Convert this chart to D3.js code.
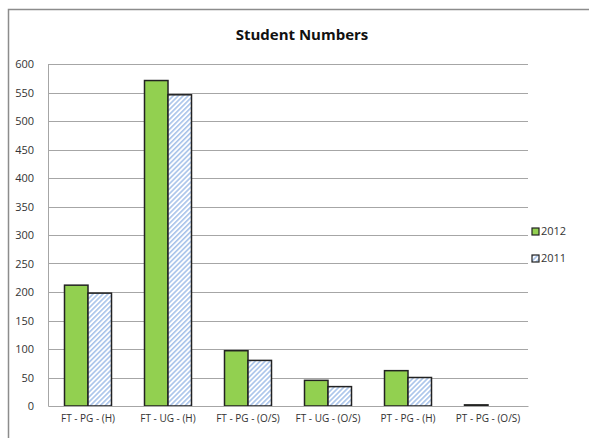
<!DOCTYPE html>
<html>
<head>
<meta charset="utf-8">
<script src="https://cdn.jsdelivr.net/npm/d3@7"></script>
<style>
  body { margin: 0; background: #fff; }
  text { font-family: "Open Sans", "DejaVu Sans", sans-serif; }
</style>
</head>
<body>
<div id="chart"></div>
<script>
var categories = ["FT - PG - (H)", "FT - UG - (H)", "FT - PG - (O/S)", "FT - UG - (O/S)", "PT - PG - (H)", "PT - PG - (O/S)"];
var series = ["2012", "2011"];
var values2012 = [212, 571, 97, 45, 62, 2];
var values2011 = [198, 546, 80, 34, 50, 0];
var yTicks = [0, 50, 100, 150, 200, 250, 300, 350, 400, 450, 500, 550, 600];

var width = 589, height = 438;
var margin = { top: 64, right: 61, bottom: 32, left: 48 };
var innerW = width - margin.left - margin.right,
    innerH = height - margin.top - margin.bottom;

var svg = d3.select("#chart").append("svg")
    .attr("width", width)
    .attr("height", height);

// hatch for 2011
var defs = svg.append("defs");
var pat = defs.append("pattern")
    .attr("id", "hatch")
    .attr("patternUnits", "userSpaceOnUse")
    .attr("width", 3.5).attr("height", 3.5)
    .attr("patternTransform", "rotate(45)");
pat.append("rect").attr("width", 3.5).attr("height", 3.5).attr("fill", "#fff");
pat.append("rect").attr("width", 1.6).attr("height", 3.5).attr("fill", "#a8c3ea");

// outer frame
svg.append("path")
    .attr("d", "M8.5," + height + " V9.5 H" + width)
    .attr("fill", "none")
    .attr("stroke", "#8c8c8c")
    .attr("stroke-width", 1.5);

svg.append("text")
    .attr("x", 302).attr("y", 40)
    .attr("text-anchor", "middle")
    .style("font-size", "15px")
    .style("font-weight", "bold")
    .style("fill", "#111")
    .text("Student Numbers");

var g = svg.append("g")
    .attr("transform", "translate(" + margin.left + "," + margin.top + ")");

var x = d3.scaleBand().domain(categories).range([0, innerW]).padding(0);
var y = d3.scaleLinear().domain([0, 600]).range([innerH, 0]);

// gridlines
g.selectAll(".grid").data(yTicks.slice(1)).enter().append("line")
    .attr("x1", 0).attr("x2", innerW)
    .attr("y1", function (d) { return Math.round(y(d)) + 0.5; })
    .attr("y2", function (d) { return Math.round(y(d)) + 0.5; })
    .attr("stroke", "#a6a6a6")
    .attr("stroke-width", 1);

var barW = 23.5;
var data = categories.map(function (c, i) {
    return { cat: c, vals: [values2012[i], values2011[i]] };
});

var groups = g.selectAll(".grp").data(data).enter().append("g")
    .attr("transform", function (d) { return "translate(" + (x(d.cat) + x.bandwidth() / 2 - barW) + ",0)"; });

groups.selectAll("rect").data(function (d) { return d.vals; }).enter()
    .filter(function (v) { return v > 0; })
    .append("rect")
    .attr("x", function (v, i) { return i * barW; })
    .attr("y", function (v) { return y(v); })
    .attr("width", barW)
    .attr("height", function (v) { return innerH - y(v); })
    .attr("fill", function (v, i) { return i === 0 ? "#92d050" : "url(#hatch)"; })
    .attr("stroke", "#222")
    .attr("stroke-width", 1.5);

// axes
var yAxis = g.append("g").call(d3.axisLeft(y).tickValues(yTicks).tickSize(0).tickPadding(14));
yAxis.select(".domain").attr("stroke", "#a6a6a6");
yAxis.selectAll("text").style("font-size", "11px").style("fill", "#333");

var xAxis = g.append("g")
    .attr("transform", "translate(0," + innerH + ")")
    .call(d3.axisBottom(x).tickSize(0).tickPadding(9));
xAxis.select(".domain").attr("stroke", "#a6a6a6");
xAxis.selectAll("text").style("font-size", "10px").style("fill", "#333");

// legend
var legend = svg.selectAll(".leg").data(series).enter().append("g")
    .attr("transform", function (d, i) { return "translate(532," + (228 + i * 27) + ")"; });
legend.append("rect")
    .attr("width", 7).attr("height", 7)
    .attr("fill", function (d, i) { return i === 0 ? "#92d050" : "url(#hatch)"; })
    .attr("stroke", "#222").attr("stroke-width", 1.2);
legend.append("text")
    .attr("x", 9).attr("y", 7)
    .style("font-size", "11px").style("fill", "#333")
    .text(function (d) { return d; });
</script>
</body>
</html>
